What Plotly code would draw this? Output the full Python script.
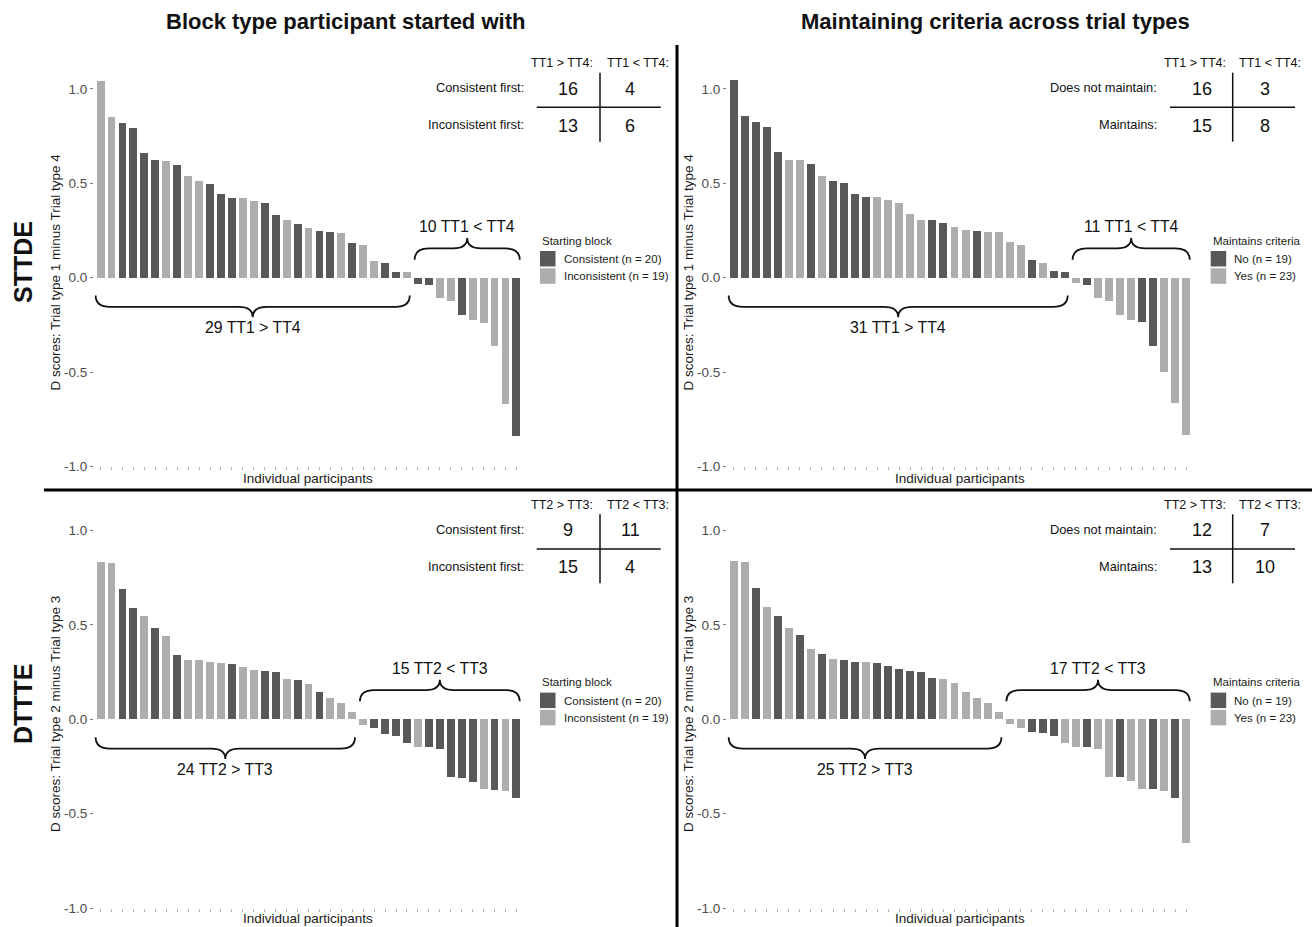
import plotly.graph_objects as go

W, H = 1312, 927
DARK = "#585858"
LIGHT = "#adadad"
FONT = "Liberation Sans, Arial, sans-serif"

# ---------------- data ----------------
# STTDE, grouped by starting block (C = consistent first, I = inconsistent first)
sttde_block_vals = [1.044, 0.853, 0.823, 0.797, 0.663, 0.624, 0.620, 0.599, 0.539, 0.512,
                    0.500, 0.445, 0.426, 0.426, 0.410, 0.398, 0.336, 0.306, 0.288, 0.267,
                    0.251, 0.244, 0.239, 0.187, 0.173, 0.090, 0.078, 0.034, 0.030,
                    -0.030, -0.035, -0.106, -0.124, -0.198, -0.224, -0.237, -0.362, -0.666, -0.836]
sttde_block_grp = ["I", "I", "C", "C", "C", "C", "I", "C", "I", "I",
                   "C", "C", "C", "I", "I", "C", "C", "I", "C", "I",
                   "C", "C", "I", "C", "I", "I", "C", "C", "I",
                   "C", "C", "I", "I", "C", "I", "I", "I", "I", "C"]

# STTDE, grouped by maintaining criteria (N = does not maintain, Y = maintains)
sttde_maint_vals = [1.048, 0.860, 0.827, 0.800, 0.666, 0.627, 0.624, 0.602, 0.542, 0.516,
                    0.502, 0.447, 0.428, 0.428, 0.412, 0.399, 0.337, 0.309, 0.306, 0.290,
                    0.272, 0.254, 0.247, 0.244, 0.244, 0.191, 0.177, 0.094, 0.081, 0.039, 0.034,
                    -0.027, -0.034, -0.104, -0.122, -0.194, -0.221, -0.233, -0.359, -0.495, -0.663, -0.834]
sttde_maint_grp = ["N", "N", "N", "N", "N", "Y", "Y", "N", "Y", "N",
                   "N", "N", "N", "Y", "Y", "Y", "Y", "Y", "N", "N",
                   "Y", "Y", "N", "Y", "Y", "Y", "Y", "N", "Y", "N", "N",
                   "Y", "N", "Y", "Y", "Y", "Y", "N", "N", "Y", "Y", "Y"]

# DTTTE, grouped by starting block
dttte_block_vals = [0.832, 0.829, 0.689, 0.587, 0.544, 0.482, 0.442, 0.339, 0.314, 0.311,
                    0.300, 0.297, 0.292, 0.276, 0.260, 0.253, 0.247, 0.212, 0.208, 0.185,
                    0.141, 0.110, 0.083, 0.035,
                    -0.032, -0.048, -0.080, -0.092, -0.129, -0.148, -0.150, -0.161, -0.307, -0.311,
                    -0.332, -0.369, -0.375, -0.382, -0.417]
dttte_block_grp = ["I", "I", "C", "C", "I", "C", "I", "C", "I", "I",
                   "I", "I", "C", "I", "I", "C", "C", "I", "C", "I",
                   "C", "I", "I", "I",
                   "I", "C", "C", "C", "C", "I", "C", "C", "C", "C",
                   "C", "I", "C", "I", "C"]

# DTTTE, grouped by maintaining criteria
dttte_maint_vals = [0.836, 0.832, 0.694, 0.592, 0.548, 0.484, 0.445, 0.371, 0.343, 0.318,
                    0.314, 0.304, 0.300, 0.297, 0.281, 0.263, 0.256, 0.251, 0.216, 0.212,
                    0.189, 0.145, 0.113, 0.087, 0.039,
                    -0.028, -0.046, -0.069, -0.076, -0.090, -0.127, -0.147, -0.147, -0.159, -0.307,
                    -0.309, -0.330, -0.369, -0.373, -0.383, -0.417, -0.657]
dttte_maint_grp = ["Y", "Y", "N", "Y", "N", "Y", "N", "Y", "N", "Y",
                   "N", "N", "Y", "N", "N", "N", "N", "N", "N", "Y",
                   "Y", "Y", "Y", "Y", "Y",
                   "Y", "Y", "N", "N", "N", "Y", "Y", "N", "Y", "Y",
                   "N", "Y", "Y", "N", "Y", "N", "Y"]

col_titles = ["Block type participant started with", "Maintaining criteria across trial types"]
row_titles = ["STTDE", "DTTTE"]
ytitles = ["D scores: Trial type 1 minus Trial type 4", "D scores: Trial type 2 minus Trial type 3"]
tt_pairs = [("TT1", "TT4"), ("TT2", "TT3")]
block_labels = {"dark": "C", "light": "I", "title": "Starting block",
                "names": ["Consistent", "Inconsistent"], "rows": ["Consistent first:", "Inconsistent first:"]}
maint_labels = {"dark": "N", "light": "Y", "title": "Maintains criteria",
                "names": ["No", "Yes"], "rows": ["Does not maintain:", "Maintains:"]}


def px(x):
    return x / W


def py(y):
    return 1 - y / H


fig = go.Figure()
shapes = []
annotations = []


def note(x, y, text, size, color="#111", xanchor="center", angle=0, ref=("paper", "paper")):
    annotations.append(dict(xref=ref[0], yref=ref[1], x=x, y=y, text=text, showarrow=False,
                            xanchor=xanchor, yanchor="middle", textangle=angle,
                            font=dict(size=size, color=color, family=FONT)))


panels = [
    (sttde_block_vals, sttde_block_grp, block_labels, 0, 0),
    (sttde_maint_vals, sttde_maint_grp, maint_labels, 0, 1),
    (dttte_block_vals, dttte_block_grp, block_labels, 1, 0),
    (dttte_maint_vals, dttte_maint_grp, maint_labels, 1, 1),
]

# pixel geometry of panels
xdoms = [(94, 523), (727, 1193)]
ydoms = [(78.6, 466.4), (520.2, 908.0)]
dy = ydoms[1][0] - ydoms[0][0]

tab_geo = [
    dict(hx=(561.7, 638), nx=(567.5, 630), rx=526, vx=600, hl=(536.7, 660.7)),
    dict(hx=(1194.7, 1270), nx=(1201.5, 1264.5), rx=1159.3, vx=1232.7, hl=(1170, 1295)),
]
leg_x = [540, 1210.7]


def brace_path(x0, x1, yend, yline, ytip, r):
    xm = (x0 + x1) / 2
    return (f"M {x0},{yend} Q {x0},{yline} {x0 + r},{yline} L {xm - r},{yline} "
            f"Q {xm},{yline} {xm},{ytip} Q {xm},{yline} {xm + r},{yline} "
            f"L {x1 - r},{yline} Q {x1},{yline} {x1},{yend}")


for k, (vals, grp, lab, row, col) in enumerate(panels):
    n = len(vals)
    ax = "" if k == 0 else str(k + 1)
    xref, yref = "x" + ax, "y" + ax
    for key, colr in (("dark", DARK), ("light", LIGHT)):
        xs = [i for i in range(n) if grp[i] == lab[key]]
        ys = [vals[i] for i in xs]
        fig.add_trace(go.Bar(x=xs, y=ys, width=0.72, marker=dict(color=colr, line=dict(width=0)),
                             xaxis=xref, yaxis=yref, showlegend=False, hoverinfo="x+y"))
    x0p, x1p = xdoms[col]
    y0p, y1p = ydoms[row]
    fig.update_layout(**{
        "xaxis" + ax: dict(domain=[px(x0p), px(x1p)], range=[-0.6, n - 0.4], anchor=yref,
                           showgrid=False, zeroline=False, showline=False, ticks="outside",
                           tickvals=list(range(n)), showticklabels=False, ticklen=3, tickwidth=1,
                           tickcolor="#b5b5b5", fixedrange=True, automargin=False),
        "yaxis" + ax: dict(domain=[py(y1p), py(y0p)], range=[-1.0, 1.055], anchor=xref,
                           showgrid=False, zeroline=False, showline=False, ticks="outside",
                           tickvals=[-1, -0.5, 0, 0.5, 1], ticktext=["-1.0", "-0.5", "0.0", "0.5", "1.0"],
                           ticklen=3, tickwidth=1, tickcolor="#7a7a7a",
                           tickfont=dict(size=13.5, color="#4d4d4d", family=FONT), fixedrange=True,
                           automargin=False),
    })

    npos = sum(1 for v in vals if v > 0)
    a, b = tt_pairs[row]
    # braces
    bx0, bx1 = -0.45, npos - 0.75
    shapes.append(dict(type="path", xref=xref, yref=yref, line=dict(color="#111", width=1.8),
                       path=brace_path(bx0, bx1, -0.095, -0.155, -0.21, 1.3)))
    note((bx0 + bx1) / 2, -0.265, f"{npos} {a} &gt; {b}", 15.8, ref=(xref, yref))
    tx0, tx1 = npos - 0.3, n - 0.7
    shapes.append(dict(type="path", xref=xref, yref=yref, line=dict(color="#111", width=1.8),
                       path=brace_path(tx0, tx1, 0.095, 0.155, 0.21, 1.3)))
    note((tx0 + tx1) / 2, 0.27, f"{n - npos} {a} &lt; {b}", 15.8, ref=(xref, yref))

    # y-axis title and x-axis title
    note(px(x0p - 39), py((y0p + y1p) / 2), ytitles[row], 13.5, color="#1a1a1a", angle=-90)
    note(px((x0p + x1p) / 2 - 0.5), py(min(y1p + 12.5, 918.5)), "Individual participants", 13.5,
         color="#1a1a1a")

    # contingency table
    g = tab_geo[col]
    off = dy * row
    counts = [[sum(1 for v, s in zip(vals, grp) if s == lab[key] and v > 0),
               sum(1 for v, s in zip(vals, grp) if s == lab[key] and v < 0)] for key in ("dark", "light")]
    for j, htxt in enumerate([f"{a} &gt; {b}:", f"{a} &lt; {b}:"]):
        note(px(g["hx"][j]), py(63.3 + off), htxt, 12.5)
    for r_i, ry in enumerate([87.5, 124.5]):
        note(px(g["rx"]), py(ry + off), lab["rows"][r_i], 12.8, xanchor="right")
        for j in range(2):
            note(px(g["nx"][j]), py(ry + 1 + off), str(counts[r_i][j]), 18)
    shapes.append(dict(type="line", xref="paper", yref="paper", x0=px(g["vx"]), x1=px(g["vx"]),
                       y0=py(72.7 + off), y1=py(141.7 + off), line=dict(color="#111", width=1.5)))
    shapes.append(dict(type="line", xref="paper", yref="paper", x0=px(g["hl"][0]), x1=px(g["hl"][1]),
                       y0=py(107.3 + off), y1=py(107.3 + off), line=dict(color="#111", width=1.5)))

    # legend (drawn)
    lx = leg_x[col]
    note(px(lx), py(240.7 + off), lab["title"], 11.5, color="#1a1a1a", xanchor="left")
    for j, (key, colr) in enumerate((("dark", DARK), ("light", LIGHT))):
        top = 251 + 17.3 * j + off
        shapes.append(dict(type="rect", xref="paper", yref="paper", x0=px(lx), x1=px(lx + 15.5),
                           y0=py(top), y1=py(top + 15.5), fillcolor=colr, line=dict(width=0)))
        nn = sum(counts[j])
        note(px(lx + 21.5), py(top + 8), f"{lab['names'][j]} (n = {nn})", 11.5, color="#1a1a1a",
             xanchor="left")

# column titles and row titles
for c, t in enumerate(col_titles):
    note(px([345, 995][c]), py(22), f"<b>{t}</b>", 22)
for r, t in enumerate(row_titles):
    note(px(23), py([262, 704][r]), f"<b>{t}</b>", 25, angle=-90)

# dividing lines
shapes.append(dict(type="line", xref="paper", yref="paper", x0=px(44), x1=px(1312), y0=py(490), y1=py(490),
                   line=dict(color="#000", width=3)))
shapes.append(dict(type="line", xref="paper", yref="paper", x0=px(677), x1=px(677), y0=py(45), y1=py(927),
                   line=dict(color="#000", width=3)))

fig.update_layout(width=W, height=H, margin=dict(l=0, r=0, t=0, b=0, pad=0), autosize=False,
                  paper_bgcolor="white", plot_bgcolor="white", barmode="overlay", bargap=0,
                  showlegend=False, shapes=shapes, annotations=annotations,
                  font=dict(family=FONT))

fig.write_html("out.html", config={"displayModeBar": False},
               post_script="document.body.style.margin='0';document.body.style.overflow='hidden';")
